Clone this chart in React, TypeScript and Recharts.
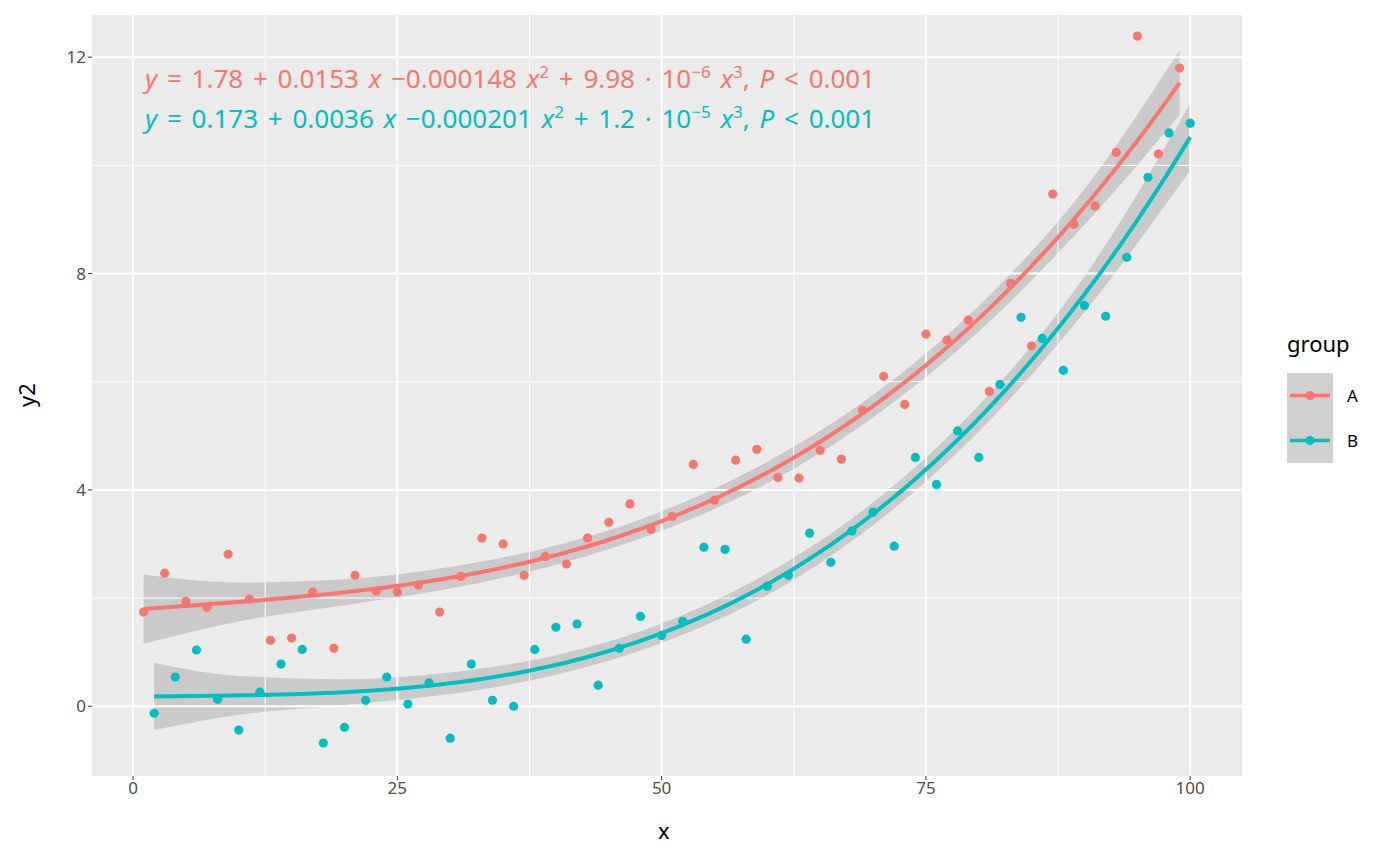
import {
  ComposedChart,
  Scatter,
  Line,
  Area,
  XAxis,
  YAxis,
  ReferenceLine,
  ReferenceArea,
} from "recharts";

const xA = [1,3,5,7,9,11,13,15,17,19,21,23,25,27,29,31,33,35,37,39,41,43,45,47,49,51,53,55,57,59,61,63,65,67,69,71,73,75,77,79,81,83,85,87,89,91,93,95,97,99];
const yA = [1.74,2.46,1.94,1.83,2.81,1.98,1.22,1.26,2.11,1.07,2.42,2.13,2.11,2.24,1.74,2.4,3.11,3.0,2.42,2.77,2.63,3.11,3.4,3.74,3.27,3.51,4.47,3.81,4.55,4.75,4.23,4.22,4.73,4.57,5.47,6.1,5.58,6.88,6.77,7.14,5.82,7.82,6.66,9.47,8.91,9.25,10.24,12.39,10.21,11.8];
const xB = [2,4,6,8,10,12,14,16,18,20,22,24,26,28,30,32,34,36,38,40,42,44,46,48,50,52,54,56,58,60,62,64,66,68,70,72,74,76,78,80,82,84,86,88,90,92,94,96,98,100];
const yB = [-0.13,0.54,1.04,0.13,-0.44,0.26,0.78,1.05,-0.68,-0.39,0.11,0.54,0.04,0.43,-0.59,0.78,0.11,0.0,1.05,1.46,1.52,0.39,1.07,1.66,1.31,1.57,2.94,2.9,1.24,2.22,2.42,3.2,2.66,3.24,3.59,2.96,4.6,4.1,5.09,4.6,5.95,7.19,6.8,6.21,7.41,7.21,8.3,9.78,10.6,10.78];

// polynomial coefficients as printed on the chart
const coefA = [1.78, 0.0153, -0.000148, 9.98e-6];
const coefB = [0.173, 0.0036, -0.000201, 1.2e-5];

// confidence band half widths
const bandXA = [1, 10, 20, 30, 40, 50, 60, 70, 80, 90, 99];
const bandWA = [0.64, 0.36, 0.24, 0.2, 0.18, 0.18, 0.2, 0.21, 0.24, 0.33, 0.6];
const bandXB = [2, 10, 20, 30, 40, 50, 60, 70, 80, 90, 100];
const bandWB = [0.62, 0.36, 0.24, 0.2, 0.18, 0.18, 0.2, 0.21, 0.24, 0.33, 0.62];

const xTicks = [0, 25, 50, 75, 100];
const yTicks = [0, 4, 8, 12];
const xMinor = [12.5, 37.5, 62.5, 87.5];
const yMinor = [2, 6, 10];

const RED = "#F8766D";
const TEAL = "#00BFC4";

const poly = (c: number[], x: number) => c[0] + c[1] * x + c[2] * x * x + c[3] * x * x * x;

const rows: any[] = [];
for (let x = 1; x <= 100; x++) {
  const r: any = { x };
  if (x <= 99) r.fitA = poly(coefA, x);
  if (x >= 2) r.fitB = poly(coefB, x);
  const ia = bandXA.indexOf(x);
  if (ia >= 0) r.bandA = [poly(coefA, x) - bandWA[ia], poly(coefA, x) + bandWA[ia]];
  const ib = bandXB.indexOf(x);
  if (ib >= 0) r.bandB = [poly(coefB, x) - bandWB[ib], poly(coefB, x) + bandWB[ib]];
  rows.push(r);
}
const ptsA = xA.map((x, i) => ({ x, y: yA[i] }));
const ptsB = xB.map((x, i) => ({ x, y: yB[i] }));

const dot = (color: string) => (p: any) => <circle cx={p.cx} cy={p.cy} r={4.6} fill={color} />;

const font = "'Noto Sans', 'Open Sans', sans-serif";
const tickStyle = { fill: "#4D4D4D", fontSize: 17, fontFamily: font };

function Eq({ color, a, b, cc, e, d }: any) {
  return (
    <div style={{ color, fontSize: 26, whiteSpace: "nowrap", lineHeight: "34px", wordSpacing: 3 }}>
      <i>y</i> = {a} + {b} <i>x</i> −{cc} <i>x</i>
      <sup style={{ fontSize: 17 }}>2</sup> + {d} · 10<sup style={{ fontSize: 17 }}>{e}</sup> <i>x</i>
      <sup style={{ fontSize: 17 }}>3</sup>, <i>P</i> &lt; 0.001
    </div>
  );
}

export default function App() {
  return (
    <div style={{ position: "fixed", left: 0, top: 0, width: 1400, height: 866, background: "#fff", fontFamily: font }}>
      <ComposedChart width={1400} height={866} data={rows} margin={{ top: 15, right: 158, left: 52, bottom: 60 }}>
        <XAxis
          dataKey="x"
          type="number"
          domain={[-3.88, 104.9]}
          ticks={xTicks}
          height={30}
          axisLine={false}
          tickSize={4}
          tickLine={{ stroke: "#333" }}
          tick={tickStyle}
        />
        <YAxis
          type="number"
          domain={[-1.29, 12.78]}
          ticks={yTicks}
          width={40}
          axisLine={false}
          tickSize={4}
          tickLine={{ stroke: "#333" }}
          tick={tickStyle}
        />
        <ReferenceArea x1={-3.88} x2={104.9} y1={-1.29} y2={12.78} fill="#EBEBEB" fillOpacity={1} stroke="none" />
        {xMinor.map((v) => <ReferenceLine key={"xm" + v} x={v} stroke="#fff" strokeWidth={1} />)}
        {yMinor.map((v) => <ReferenceLine key={"ym" + v} y={v} stroke="#fff" strokeWidth={1} />)}
        {xTicks.map((v) => <ReferenceLine key={"x" + v} x={v} stroke="#fff" strokeWidth={2} />)}
        {yTicks.map((v) => <ReferenceLine key={"y" + v} y={v} stroke="#fff" strokeWidth={2} />)}
        <Area dataKey="bandA" type="monotone" connectNulls stroke="none" fill="#999" fillOpacity={0.4} isAnimationActive={false} />
        <Area dataKey="bandB" type="monotone" connectNulls stroke="none" fill="#999" fillOpacity={0.4} isAnimationActive={false} />
        <Scatter data={ptsA} dataKey="y" shape={dot(RED)} isAnimationActive={false} />
        <Scatter data={ptsB} dataKey="y" shape={dot(TEAL)} isAnimationActive={false} />
        <Line dataKey="fitA" stroke={RED} strokeWidth={4} dot={false} type="monotone" isAnimationActive={false} />
        <Line dataKey="fitB" stroke={TEAL} strokeWidth={4} dot={false} type="monotone" isAnimationActive={false} />
      </ComposedChart>
      <div style={{ position: "absolute", left: 145, top: 55 }}>
        <Eq color={RED} a="1.78" b="0.0153" cc="0.000148" d="9.98" e="−6" />
        <Eq color={TEAL} a="0.173" b="0.0036" cc="0.000201" d="1.2" e="−5" />
      </div>
      <div style={{ position: "absolute", left: 658, top: 815, fontSize: 22, color: "#000" }}>x</div>
      <div style={{ position: "absolute", left: 14, top: 380, fontSize: 22, transform: "rotate(-90deg)", color: "#000" }}>y2</div>
      <div style={{ position: "absolute", left: 1287, top: 328, fontSize: 22 }}>group</div>
      {[["A", RED], ["B", TEAL]].map(([k, c], i) => (
        <div key={k} style={{ position: "absolute", left: 1287, top: 373 + i * 45, display: "flex", alignItems: "center" }}>
          <svg width={46} height={45}>
            <rect width={46} height={45} fill="#D0D0D0" />
            <line x1={3} x2={43} y1={22.5} y2={22.5} stroke={c} strokeWidth={3.5} />
            <circle cx={23} cy={22.5} r={4.6} fill={c} />
          </svg>
          <span style={{ marginLeft: 14, fontSize: 17 }}>{k}</span>
        </div>
      ))}
    </div>
  );
}
